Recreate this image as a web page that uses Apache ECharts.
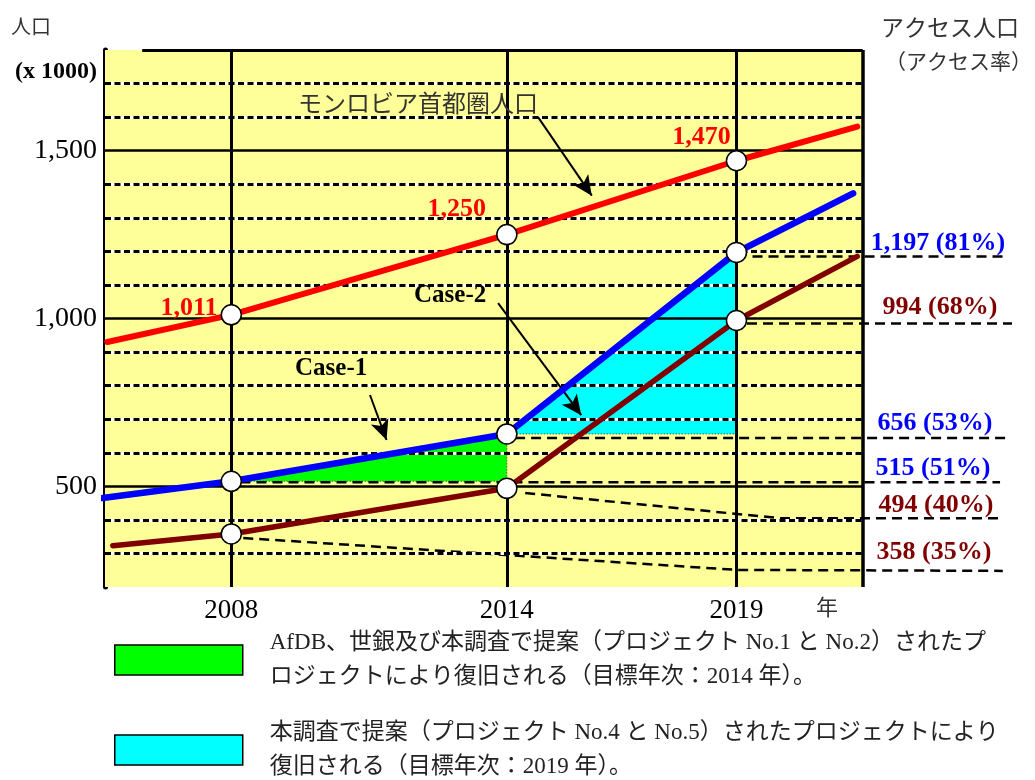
<!DOCTYPE html>
<html>
<head>
<meta charset="utf-8">
<script src="https://cdn.jsdelivr.net/npm/echarts@6/dist/echarts.min.js"></script>
<style>
  html, body { margin: 0; padding: 0; background: #fff; }
  #chart { width: 1035px; height: 780px; }
</style>
</head>
<body>
<div id="chart"></div>
<script>
// Survey years and population (x 1000)
const years = [2008, 2014, 2019];
const metroPopulation = [1011, 1250, 1470];   // モンロビア首都圏人口
const accessUpper = [515, 656, 1197];         // Case-1 / Case-2 access population
const accessLower = [358, 494, 994];          // baseline access population
const upperRate = [51, 53, 81];               // access rate (%)
const lowerRate = [35, 40, 68];

// trend lines continue past the survey years
const metroEnds = [[2005.3, 930], [2021.63, 1572]];
const upperEnds = [[2005.2, 465], [2021.54, 1373]];
const lowerEnds = [[2005.42, 323], [2021.63, 1185]];

// dashed leaders running out to the value labels
const leader1197 = [[2019.35, 1185], [2024.9, 1185]];
const leader994 = [[2019.23, 985], [2025.0, 985]];
const leader656 = [[2014.18, 644], [2024.96, 644]];
const leader515 = [[2008.2, 512], [2024.74, 512]];
const leader494 = [[2014.4, 480], [2019.95, 405], [2024.74, 405]];
const leader358 = [[2008.26, 346], [2019, 251], [2024.8, 248]];

// axis ticks and guide levels
const yTickLabels = [500, 1000, 1500];
const gridLevels = [300, 400, 500, 600, 700, 800, 900, 1000, 1100, 1200, 1300, 1400, 1500, 1600, 1700];

const legendCase1 = 'AfDB、世銀及び本調査で提案（プロジェクト No.1 と No.2）されたプ\nロジェクトにより復旧される（目標年次：2014 年）。';
const legendCase2 = '本調査で提案（プロジェクト No.4 と No.5）されたプロジェクトにより\n復旧される（目標年次：2019 年）。';

const X0 = 2005.25, X1 = 2021.75, Y0 = 200, Y1 = 1800;
const SERIF = "'Liberation Serif', 'Times New Roman', serif";
const JP = "'Liberation Serif', 'Noto Sans CJK JP', sans-serif";
const RED = '#FF0000', BLUE = '#0000FF', BROWN = '#800000';

const fmt = v => v.toLocaleString('en-US');

function seg(a, b, style) {
  return [{ coord: a, lineStyle: style }, { coord: b }];
}

// plot frame: guide lines
const guideLines = [];
gridLevels.forEach(v => {
  if (yTickLabels.includes(v)) {
    guideLines.push(seg([X0, v], [X1, v], { color: '#000', width: 2.5, type: 'solid' }));
  } else {
    guideLines.push(seg([X0, v], [X1, v], { color: '#fff', width: 3, type: 'solid' }));
    guideLines.push(seg([X0, v], [X1, v], { color: '#000', width: 3, type: [6, 3.5] }));
  }
});
guideLines.push(seg([years[0], Y0], [years[0], Y1], { color: '#000', width: 3, type: 'solid' }));
guideLines.push(seg([years[2], Y0], [years[2], Y1], { color: '#000', width: 3, type: 'solid' }));
guideLines.push(seg([years[1], accessUpper[1]], [years[1], Y1], { color: '#000', width: 3, type: 'solid' }));
guideLines.push(seg([years[1], Y0], [years[1], accessLower[1]], { color: '#000', width: 3, type: 'solid' }));

const borderLines = [
  seg([2006.06, Y1], [X1, Y1], { color: '#000', width: 3, type: 'solid' }),
  seg([X1, Y0], [X1, Y1], { color: '#000', width: 3.5, type: 'solid' }),
  seg([2005.15, Y0], [2021.8, Y0], { color: '#000', width: 5, type: 'solid' })
];

function polygonSeries(name, pts, color) {
  return {
    type: 'custom', name, coordinateSystem: 'cartesian2d', data: pts, z: 3, silent: true,
    itemStyle: { color },
    renderItem: (params, api) => {
      if (params.dataIndex !== 0) return null;
      return {
        type: 'polygon',
        shape: { points: pts.map(p => api.coord(p)) },
        style: { fill: color, stroke: '#333', lineWidth: 1, lineDash: [1, 2] }
      };
    }
  };
}

function trend(data, color, width) {
  return {
    type: 'line', data, symbol: 'none', silent: true, z: 5,
    lineStyle: { color, width, cap: 'round' }
  };
}

function leader(data) {
  return {
    type: 'line', data, symbol: 'none', silent: true, z: 4,
    lineStyle: { color: '#000', width: 2.5, type: [10, 6] }
  };
}

const case1 = [[years[0], accessUpper[0]], [years[1], accessUpper[1]], [years[1], accessUpper[0]]];
const case2 = [[years[1], accessUpper[1]], [years[2], accessUpper[2]], [years[2], accessUpper[1]]];

const metroLabelPos = [[-3, 4], [-10, -15], [5, -13]];

const circles = [];
years.forEach((y, i) => {
  circles.push({
    value: [y, metroPopulation[i]],
    label: {
      show: true, position: metroLabelPos[i], align: 'right', verticalAlign: 'middle',
      formatter: p => fmt(p.value[1]),
      color: RED, fontFamily: SERIF, fontWeight: 'bold', fontSize: 26
    }
  });
  circles.push({ value: [y, accessUpper[i]] });
  circles.push({ value: [y, accessLower[i]] });
});

const arrowStyle = { color: '#000', width: 2, type: 'solid' };
const arrows = [
  seg([2014.68, 1600], [2015.85, 1366], arrowStyle),
  seg([2011.02, 772], [2011.38, 638], arrowStyle),
  seg([2013.81, 1046], [2015.62, 712], arrowStyle)
];

// value labels at the right edge
const rightLabels = [
  { text: `${fmt(accessUpper[2])} (${upperRate[2]}%)`, x: 938, y: 243, color: BLUE },
  { text: `${fmt(accessLower[2])} (${lowerRate[2]}%)`, x: 940, y: 307, color: BROWN },
  { text: `${fmt(accessUpper[1])} (${upperRate[1]}%)`, x: 935, y: 423, color: BLUE },
  { text: `${fmt(accessUpper[0])} (${upperRate[0]}%)`, x: 933, y: 468, color: BLUE },
  { text: `${fmt(accessLower[1])} (${lowerRate[1]}%)`, x: 936, y: 505, color: BROWN },
  { text: `${fmt(accessLower[0])} (${lowerRate[0]}%)`, x: 934, y: 552, color: BROWN }
];

function txt(text, x, y, size, family, opts) {
  return {
    type: 'text', x, y, z: 20, silent: true,
    style: Object.assign({
      text, fontSize: size, fontFamily: family, fill: '#1a1a1a',
      align: 'left', verticalAlign: 'middle'
    }, opts || {})
  };
}

const graphics = [
  txt('人口', 11, 26, 20, "'Noto Sans CJK JP'", { fill: '#333' }),
  txt('(x 1000)', 15, 72, 24, SERIF, { fontWeight: 'bold', fill: '#000' }),
  txt('アクセス人口', 881, 27, 23, "'Noto Sans CJK JP'", { fill: '#333' }),
  txt('（アクセス率）', 885, 61, 21, "'Noto Sans CJK JP'", { fill: '#333' }),
  txt('モンロビア首都圏人口', 298, 103, 24, "'Noto Sans CJK JP'", { fill: '#333' }),
  txt('Case-1', 295, 369, 25, SERIF, { fontWeight: 'bold', fill: '#000' }),
  txt('Case-2', 414, 296, 25, SERIF, { fontWeight: 'bold', fill: '#000' }),
  txt('年', 816, 607, 22, "'Noto Sans CJK JP'", { fill: '#333' })
].concat(rightLabels.map(l => txt(l.text, l.x, l.y, 26, SERIF,
  { fontWeight: 'bold', fill: l.color, align: 'center' })));

const chart = echarts.init(document.getElementById('chart'), null, { renderer: 'canvas' });
chart.setOption({
  animation: false,
  backgroundColor: '#fff',
  grid: { left: 105, right: 23, top: 50, bottom: 193, containLabel: false },
  xAxis: {
    type: 'value', min: X0, max: 2025.0,
    axisLine: { show: false }, axisTick: { show: false }, splitLine: { show: false },
    axisLabel: {
      customValues: years, margin: 10, color: '#000',
      fontFamily: SERIF, fontSize: 27, formatter: v => String(v)
    }
  },
  yAxis: {
    type: 'value', min: Y0, max: Y1,
    axisLine: { show: true, lineStyle: { color: '#000', width: 5 } },
    axisTick: { show: false }, splitLine: { show: false },
    axisLabel: {
      customValues: yTickLabels, margin: 8, color: '#000',
      fontFamily: SERIF, fontSize: 28, formatter: v => fmt(v)
    }
  },
  legend: {
    orient: 'vertical', left: 114, top: 620, height: 200, padding: 0, itemGap: 10,
    itemWidth: 128, itemHeight: 30, icon: 'rect', selectedMode: false,
    data: [legendCase1, legendCase2],
    itemStyle: { borderColor: '#000', borderWidth: 1.5 },
    textStyle: { fontFamily: JP, fontSize: 23, lineHeight: 34, color: '#222', padding: [12, 0, 0, 22] }
  },
  graphic: graphics,
  series: [
    {
      type: 'line', data: [], silent: true, z: 1,
      markArea: {
        silent: true, itemStyle: { color: '#FFFF99' }, label: { show: false },
        data: [[{ coord: [X0, Y0] }, { coord: [X1, Y1] }]]
      }
    },
    {
      type: 'line', data: [], silent: true, z: 2,
      markLine: { silent: true, symbol: ['none', 'none'], label: { show: false }, data: guideLines }
    },
    polygonSeries(legendCase1, case1, '#00FF00'),
    polygonSeries(legendCase2, case2, '#00FFFF'),
    leader(leader1197), leader(leader994), leader(leader656),
    leader(leader515), leader(leader494), leader(leader358),
    trend([metroEnds[0], ...years.map((y, i) => [y, metroPopulation[i]]), metroEnds[1]], RED, 6),
    trend([upperEnds[0], ...years.map((y, i) => [y, accessUpper[i]]), upperEnds[1]], BLUE, 6.5),
    trend([lowerEnds[0], ...years.map((y, i) => [y, accessLower[i]]), lowerEnds[1]], BROWN, 5.5),
    {
      type: 'line', data: [], silent: true, z: 6,
      markLine: {
        silent: true, symbol: ['none', 'arrow'], symbolSize: [14, 20],
        label: { show: false }, data: arrows
      }
    },
    {
      type: 'scatter', data: circles, symbol: 'circle', symbolSize: 20, z: 7, silent: true,
      itemStyle: { color: '#fff', borderColor: '#000', borderWidth: 1.5, opacity: 1 }
    },
    {
      type: 'line', data: [], silent: true, z: 8,
      markLine: { silent: true, symbol: ['none', 'none'], label: { show: false }, data: borderLines }
    }
  ]
});
</script>
</body>
</html>
